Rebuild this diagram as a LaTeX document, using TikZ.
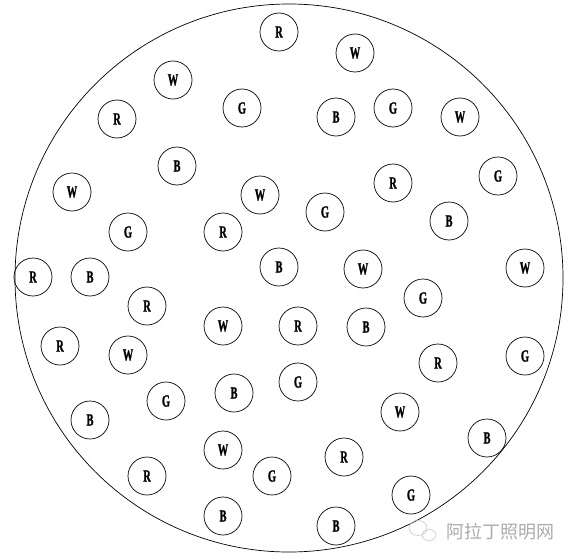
\documentclass[tikz,border=0pt]{standalone}
\usepackage{fontspec}
\usepackage{graphicx}
\setmainfont{Liberation Serif}
\newfontfamily\cjk{Noto Sans CJK SC}
\newfontfamily\lampfont[FakeBold=1.5]{Liberation Serif Bold}
\usetikzlibrary{positioning}

\newcommand{\narrow}[1]{\scalebox{0.62}[1]{#1}}

\begin{document}
\begin{tikzpicture}[x=1pt,y=-1pt,line width=0.7pt,
    lamp/.style={circle,draw,minimum size=38pt,inner sep=0pt,font=\lampfont\fontsize{17}{17}\selectfont},
    mark text/.style={text=black!33,font=\cjk\fontsize{18}{18}\selectfont}]
        \useasboundingbox (0,0) rectangle (577,559);
        \draw (289,278) circle (274);

        \node[lamp] (r1) at (279,32) {\narrow{R}};
        \node[lamp] (w1) at (355,53) {\narrow{W}};
        \node[lamp] (w2) at (173,80) {\narrow{W}};
        \node[lamp] (g1) at (242,108) {\narrow{G}};
        \node[lamp] (r2) at (117,119) {\narrow{R}};
        \node[lamp] (b1) at (336,117) {\narrow{B}};
        \node[lamp] (g2) at (393,108) {\narrow{G}};
        \node[lamp] (w3) at (460,117) {\narrow{W}};
        \node[lamp] (b2) at (177,166) {\narrow{B}};
        \node[lamp] (g3) at (498,176) {\narrow{G}};
        \node[lamp] (w4) at (72,192) {\narrow{W}};
        \node[lamp] (w5) at (260,195) {\narrow{W}};
        \node[lamp] (r3) at (393,183) {\narrow{R}};
        \node[lamp] (g4) at (325,212) {\narrow{G}};
        \node[lamp] (b3) at (449,221) {\narrow{B}};
        \node[lamp] (g5) at (128,232) {\narrow{G}};
        \node[lamp] (r4) at (223,232) {\narrow{R}};
        \node[lamp] (r5) at (33,277) {\narrow{R}};
        \node[lamp] (b4) at (90,277) {\narrow{B}};
        \node[lamp] (b5) at (279,267) {\narrow{B}};
        \node[lamp] (w6) at (363,269) {\narrow{W}};
        \node[lamp] (w7) at (525,268) {\narrow{W}};
        \node[lamp] (g6) at (423,298) {\narrow{G}};
        \node[lamp] (r6) at (147,306) {\narrow{R}};
        \node[lamp] (w8) at (223,326) {\narrow{W}};
        \node[lamp] (r7) at (298,326) {\narrow{R}};
        \node[lamp] (b6) at (366,327) {\narrow{B}};
        \node[lamp] (r8) at (60,346) {\narrow{R}};
        \node[lamp] (w9) at (128,355) {\narrow{W}};
        \node[lamp] (r9) at (438,363) {\narrow{R}};
        \node[lamp] (g7) at (525,356) {\narrow{G}};
        \node[lamp] (g8) at (298,382) {\narrow{G}};
        \node[lamp] (b7) at (234,393) {\narrow{B}};
        \node[lamp] (g9) at (166,401) {\narrow{G}};
        \node[lamp] (b8) at (90,420) {\narrow{B}};
        \node[lamp] (w10) at (400,412) {\narrow{W}};
        \node[lamp] (b9) at (487,438) {\narrow{B}};
        \node[lamp] (w11) at (223,450) {\narrow{W}};
        \node[lamp] (r10) at (344,457) {\narrow{R}};
        \node[lamp] (g10) at (272,476) {\narrow{G}};
        \node[lamp] (r11) at (147,476) {\narrow{R}};
        \node[lamp] (g11) at (411,495) {\narrow{G}};
        \node[lamp] (b10) at (223,516) {\narrow{B}};
        \node[lamp] (b11) at (336,526) {\narrow{B}};

        % watermark
        \draw[black!22,line width=0.6pt] (418,528) ellipse (9 and 7.5);
        \draw[black!22,line width=0.6pt] (429,535) ellipse (7 and 5.5);
        \node[mark text,anchor=west] (mark) at (443,532) {阿拉丁照明网};
    \end{tikzpicture}
\end{document}
